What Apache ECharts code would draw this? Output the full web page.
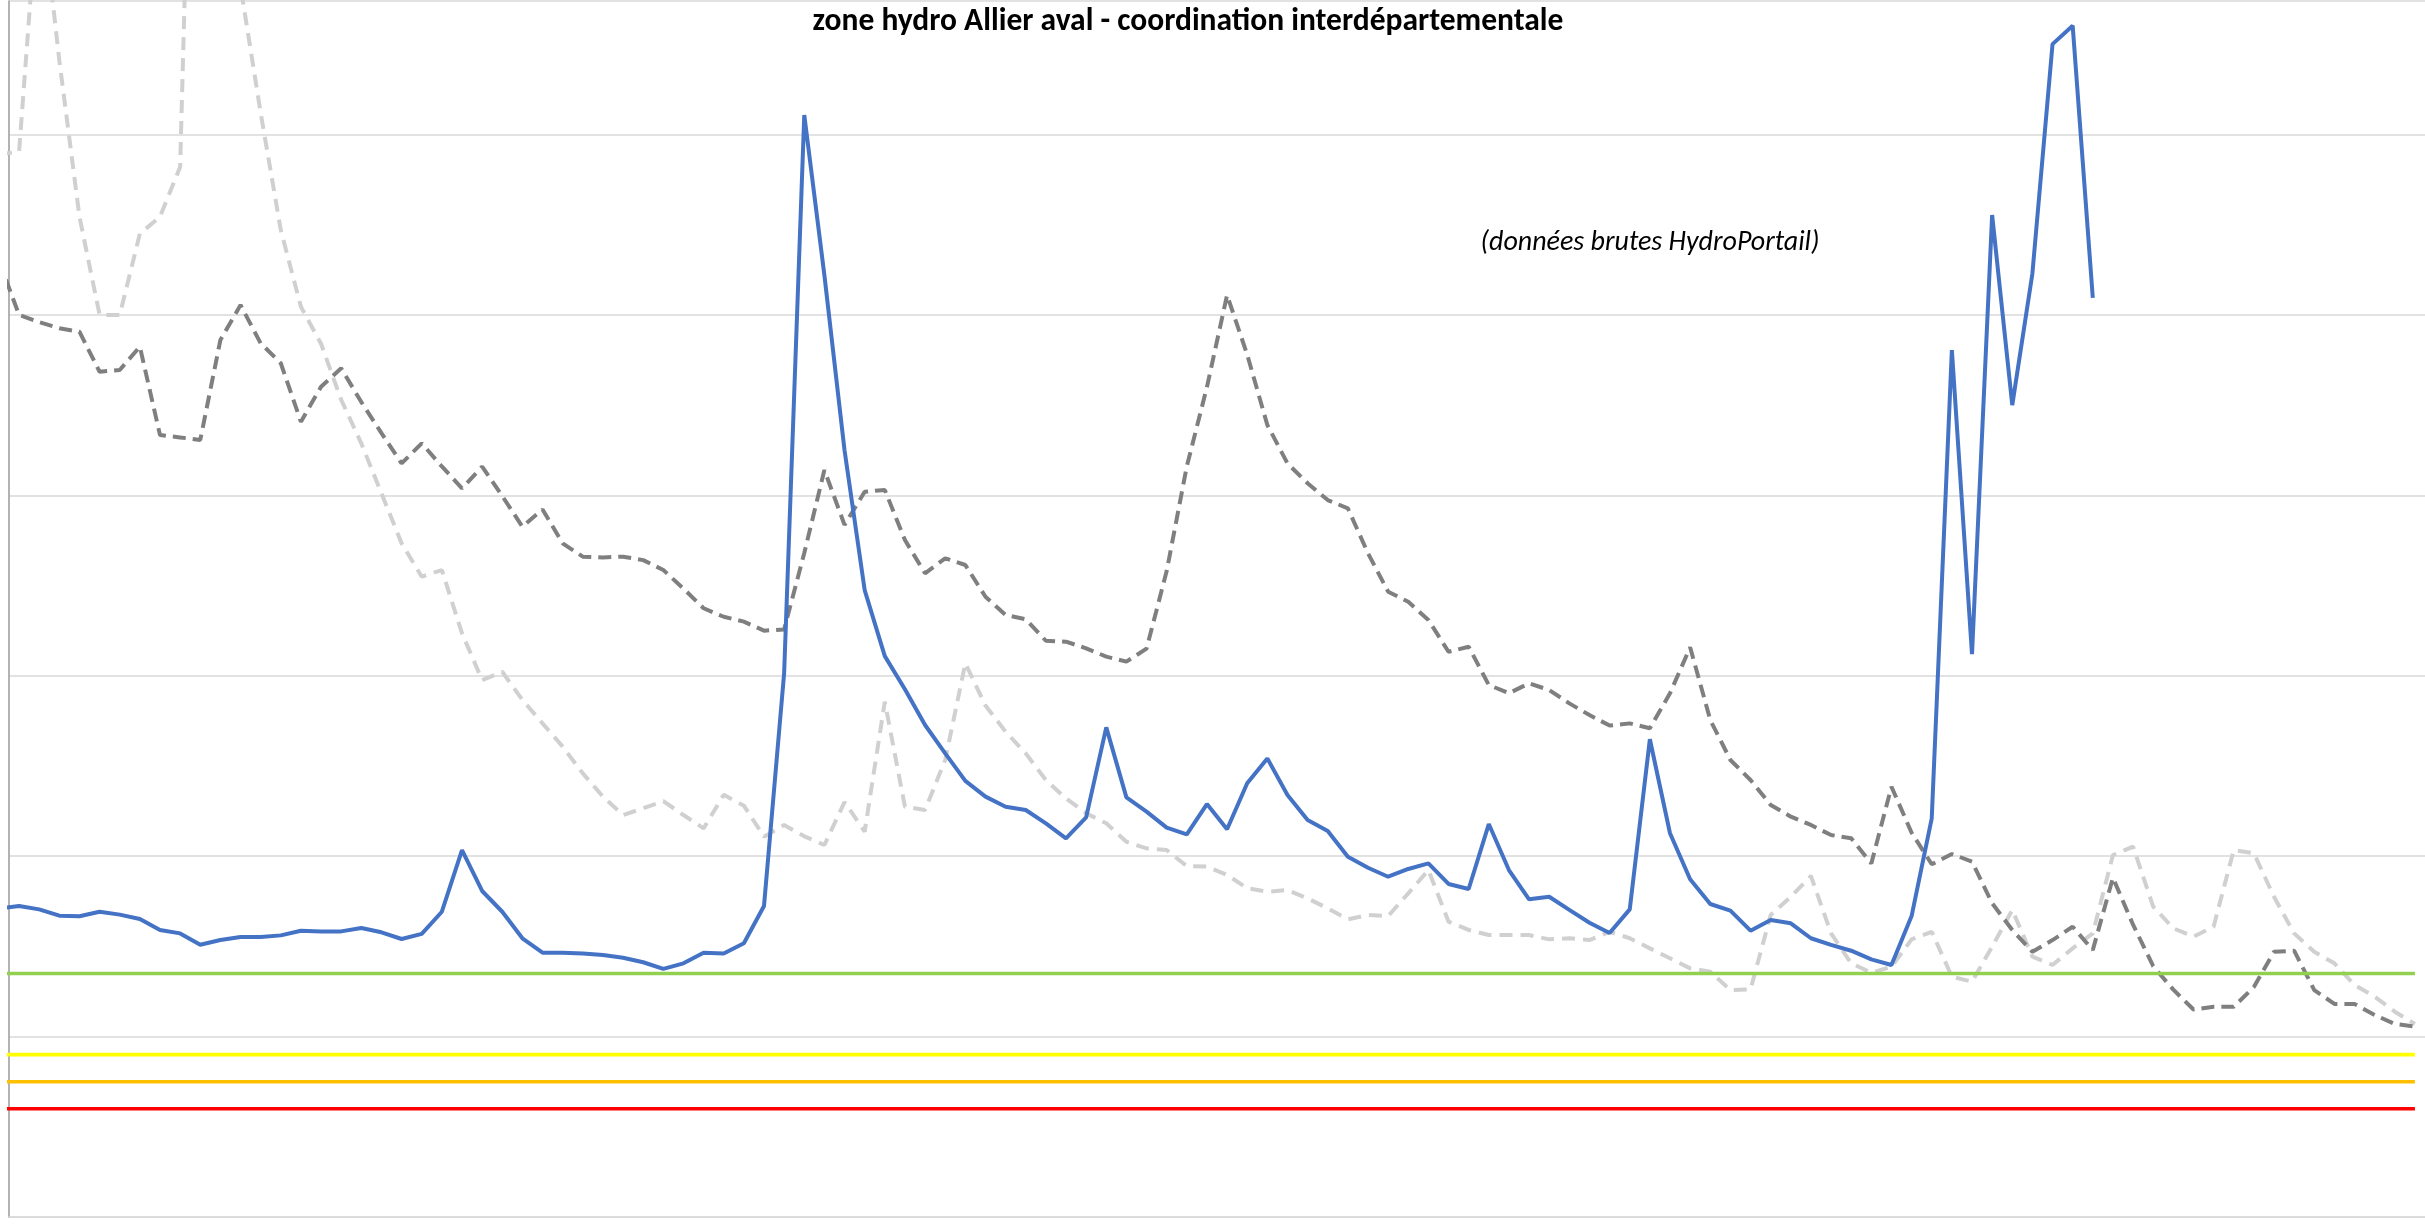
<!DOCTYPE html>
<html>
<head>
<meta charset="utf-8">
<script src="https://cdn.jsdelivr.net/npm/echarts@6/dist/echarts.min.js"></script>
<style>
html,body{margin:0;padding:0;background:#ffffff;}
#chart{width:2425px;height:1225px;}
</style>
</head>
<body>
<div id="chart"></div>
<script>
// ---- texts ----
const titleText = 'zone hydro Allier aval - coordination interdépartementale';
const noteText = '(données brutes HydroPortail)';

// ---- x positions (day index; index 0 lies just left of the vertical axis) ----
const dayIndex = Array.from({length: 121}, (_, i) => i);

// ---- series values ----
const flowCurrent = [17.1, 17.24, 17.05, 16.70, 16.67, 16.92, 16.76, 16.52, 15.91, 15.72,
  15.09, 15.35, 15.52, 15.52, 15.61, 15.87, 15.83, 15.83, 16.02, 15.78,
  15.41, 15.69, 16.92, 20.34, 18.07, 16.92, 15.45, 14.65, 14.65, 14.61,
  14.52, 14.37, 14.12, 13.75, 14.06, 14.65, 14.61, 15.17, 17.24, 30.15,
  61.08, 52.2, 42.5, 34.75, 31.09, 29.25, 27.27, 25.70, 24.17, 23.3,
  22.74, 22.56, 21.82, 20.99, 22.15, 27.14, 23.26, 22.47, 21.58, 21.21,
  22.89, 21.49, 24.04, 25.42, 23.39, 22.0, 21.39, 19.97, 19.36, 18.86,
  19.29, 19.6, 18.46, 18.18, 21.78, 19.23, 17.61, 17.75, 17.02, 16.31,
  15.74, 17.05, 26.48, 21.27, 18.72, 17.35, 16.98, 15.87, 16.46, 16.28,
  15.45, 15.08, 14.76, 14.28, 13.97, 16.68, 22.1, 48.05, 31.2, 55.54,
  45.0, 52.3, 65.01, 66.03, 50.95, null, null, null, null, null,
  null, null, null, null, null, null, null, null, null, null, null];

const flowRefDark = [53.0, 50.0, 49.6, 49.26, 49.07, 46.85, 46.95, 48.24, 43.34, 43.21,
  43.07, 48.61, 50.55, 48.43, 47.32, 44.08, 46.02, 47.04, 45.17, 43.45,
  41.77, 42.88, 41.6, 40.39, 41.59, 39.96, 38.26, 39.22, 37.34, 36.6,
  36.56, 36.6, 36.41, 35.86, 34.83, 33.74, 33.27, 33.0, 32.5, 32.57,
  36.8, 41.4, 38.36, 40.2, 40.3, 37.52, 35.68, 36.51, 36.14, 34.38,
  33.37, 33.13, 31.94, 31.89, 31.52, 31.06, 30.78, 31.5, 35.8, 41.6,
  46.0, 51.1, 47.8, 43.9, 41.77, 40.67, 39.74, 39.28, 36.79, 34.66,
  34.1, 33.09, 31.33, 31.61, 29.49, 29.03, 29.58, 29.21, 28.47, 27.82,
  27.24, 27.36, 27.09, 29.03, 31.58, 27.55, 25.33, 24.22, 22.84, 22.19,
  21.73, 21.17, 20.99, 19.6, 23.85, 21.3, 19.55, 20.12, 19.7, 17.39,
  15.91, 14.7, 15.35, 16.09, 14.8, 18.8, 16.2, 13.9, 12.6, 11.5,
  11.65, 11.65, 12.75, 14.7, 14.76, 12.58, 11.81, 11.81, 11.2, 10.7, 10.55];

const flowRefLight = [58.9, 59.05, 74.0, 64.1, 55.44, 50.0, 50.0, 54.5, 55.44, 58.2,
  100.0, 90.0, 68.2, 61.2, 54.7, 50.45, 48.4, 45.3, 42.88, 40.11,
  37.34, 35.49, 35.86, 32.35, 29.76, 30.22, 28.66, 27.36, 26.07, 24.59,
  23.3, 22.28, 22.65, 23.05, 22.28, 21.54, 23.4, 22.8, 21.08, 21.73,
  21.1, 20.62, 23.0, 21.36, 28.56, 22.74, 22.56, 25.33, 30.69, 28.35,
  26.9, 25.7, 24.22, 23.2, 22.38, 21.82, 20.8, 20.43, 20.34, 19.45,
  19.42, 18.96, 18.22, 18.03, 18.12, 17.66, 17.11, 16.5, 16.74, 16.68,
  17.94, 19.23, 16.37, 15.91, 15.63, 15.63, 15.63, 15.39, 15.45, 15.35,
  15.81, 15.45, 14.89, 14.34, 13.78, 13.6, 12.58, 12.62, 16.74, 17.75,
  18.9, 15.72, 14.06, 13.54, 13.87, 15.39, 15.81, 13.32, 13.04, 14.98,
  17.02, 14.43, 13.97, 14.89, 15.72, 20.06, 20.53, 17.2, 16.0, 15.54,
  16.09, 20.34, 20.16, 17.75, 15.72, 14.7, 14.06, 12.86, 12.21, 11.38, 10.7];

// ---- threshold levels ----
const thresholdNames = ['Seuil de vigilance', "Seuil d'alerte", "Seuil d'alerte renforcée", 'Seuil de crise'];
const thresholdValues = [13.5, 9, 7.5, 6];

// ---- axis ----
const yMin = 0, yMax = 67.4, yStep = 10;
const xMin = 0.5, xMax = 120.5;

// ---- styles ----
const thresholdColors = ['#92D050', '#FFFF00', '#FFC000', '#FF0000'];
const FONT = 'Carlito, "Liberation Sans Narrow", Lato, "Open Sans", sans-serif';

function pairs(values) {
  return dayIndex.map((d, i) => [d, values[i]]);
}

const series = [
  {
    name: 'Référence (gris clair)',
    type: 'line',
    data: pairs(flowRefLight),
    showSymbol: false, symbol: 'none',
    lineStyle: {color: '#D0D0D0', width: 4, type: [13, 8]},
    z: 2
  },
  {
    name: 'Référence (gris foncé)',
    type: 'line',
    data: pairs(flowRefDark),
    showSymbol: false, symbol: 'none',
    lineStyle: {color: '#7F7F7F', width: 4, type: [13, 7]},
    z: 3
  },
  {
    name: 'Débit',
    type: 'line',
    data: pairs(flowCurrent),
    showSymbol: false, symbol: 'none',
    connectNulls: false,
    lineStyle: {color: '#4472C4', width: 4},
    z: 4
  }
];
thresholdNames.forEach((n, k) => {
  series.push({
    name: n,
    type: 'line',
    data: [[dayIndex[0], thresholdValues[k]], [dayIndex[dayIndex.length - 1], thresholdValues[k]]],
    showSymbol: false, symbol: 'none',
    lineStyle: {color: thresholdColors[k], width: 3.6},
    z: 5
  });
});

const chart = echarts.init(document.getElementById('chart'), null, {renderer: 'canvas'});
chart.setOption({
  animation: false,
  backgroundColor: '#ffffff',
  title: [
    {
      text: titleText,
      left: 1183, top: 1, textAlign: 'center',
      textStyle: {fontFamily: FONT, fontSize: 31.5, fontWeight: 'bold', color: '#000000'}
    },
    {
      text: noteText,
      left: 1645, top: 224, textAlign: 'center',
      textStyle: {fontFamily: FONT, fontSize: 28, fontStyle: 'italic', fontWeight: 'normal', color: '#000000'}
    }
  ],
  grid: {left: 9, right: 0, top: 1, bottom: 8, containLabel: false},
  xAxis: {
    type: 'value', min: xMin, max: xMax,
    axisLine: {show: true, onZero: false, lineStyle: {color: '#D9D9D9', width: 1.7}},
    axisTick: {show: false},
    axisLabel: {show: false},
    splitLine: {show: false}
  },
  yAxis: {
    type: 'value', min: yMin, max: yMax, interval: yStep,
    axisLine: {show: true, onZero: false, lineStyle: {color: '#A6A6A6', width: 1.7}},
    axisTick: {show: false},
    axisLabel: {show: false},
    splitLine: {show: true, lineStyle: {color: '#D9D9D9', width: 1.7}}
  },
  series: series
});
</script>
</body>
</html>
